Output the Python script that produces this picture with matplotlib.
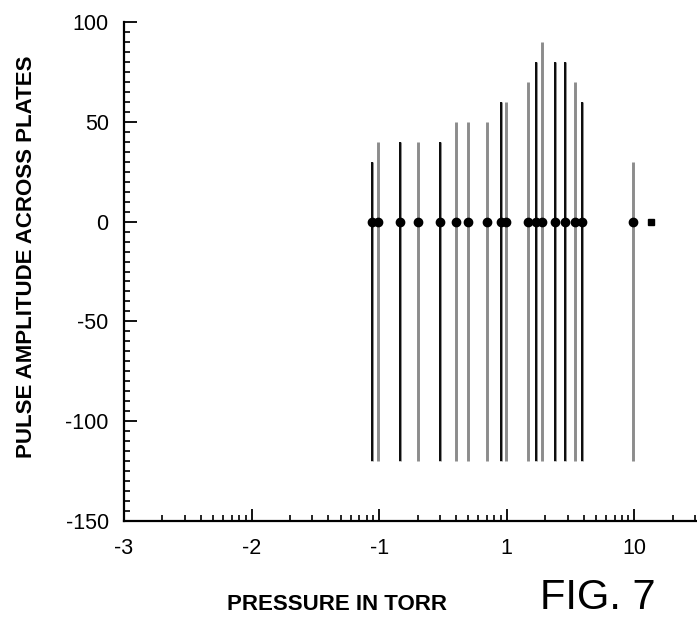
import matplotlib
matplotlib.use("Agg")
import matplotlib.pyplot as plt
from matplotlib.ticker import FixedLocator, FixedFormatter, NullFormatter
import numpy as np

plt.rcParams['font.family'] = ['Liberation Sans', 'DejaVu Sans']

# pressure (torr) of each measurement and the pulse amplitude range
pressure = [0.088, 0.098, 0.145, 0.2, 0.3, 0.4, 0.5, 0.7, 0.9, 0.98,
            1.46, 1.7, 1.9, 2.4, 2.85, 3.45, 3.9, 9.7]
amp_top = [30, 40, 40, 40, 40, 50, 50, 50, 60, 60,
           70, 80, 90, 80, 80, 70, 60, 30]
amp_bottom = [-120] * len(pressure)
# lone point with no pulse
extra_pressure = [13.6]
extra_amp = [0]

x_tick_pos = [1e-3, 1e-2, 1e-1, 1, 10]
x_tick_labels = ["-3", "-2", "-1", "1", "10"]
y_ticks = [100, 50, 0, -50, -100, -150]

# scan look: some lines came out dark, some grey
dark = [1, 0, 1, 0, 1, 0, 0, 0, 1, 0, 0, 1, 0, 1, 1, 0, 1, 0]

fig = plt.figure(figsize=(6.97, 6.21), dpi=100)
ax = fig.add_axes([124 / 697, 100 / 621, 573 / 697, 499 / 621])

for p, top, bot, d in zip(pressure, amp_top, amp_bottom, dark):
    ax.vlines(p, bot, top, color='#8c8c8c', lw=2.1)
    if d:
        ax.vlines(p, bot, top, color='black', lw=1.3)

ax.plot(pressure, [0] * len(pressure), 'o', color='black', ms=6)
ax.plot(extra_pressure, extra_amp, 's', color='black', ms=4.5)

ax.set_xscale('log')
ax.set_xlim(1e-3, 31)
ax.set_ylim(-150, 100)

ax.spines['top'].set_visible(False)
ax.spines['right'].set_visible(False)
ax.spines['left'].set_linewidth(1.6)
ax.spines['bottom'].set_linewidth(1.6)

ax.xaxis.set_major_locator(FixedLocator(x_tick_pos))
ax.xaxis.set_major_formatter(FixedFormatter(x_tick_labels))
minors = [m * 10.0 ** e for e in range(-3, 2) for m in range(2, 10)]
ax.xaxis.set_minor_locator(FixedLocator([v for v in minors if v < 31]))
ax.xaxis.set_minor_formatter(NullFormatter())

ax.set_yticks(y_ticks)
ax.set_yticklabels([str(v) for v in y_ticks])
ax.yaxis.set_minor_locator(FixedLocator(np.arange(-150, 101, 5)))

ax.tick_params(which='major', direction='in', length=9, width=1.3,
               labelsize=15.5, pad=11)
ax.tick_params(which='minor', direction='in', length=4.5, width=1.2)
ax.tick_params(axis='x', which='major', pad=12)

fig.text(27 / 697, 1 - 257 / 621, "PULSE AMPLITUDE ACROSS PLATES",
         rotation=90, ha='center', va='center', fontsize=16,
         fontweight='bold')
fig.text(337 / 697, 1 - 604 / 621, "PRESSURE IN TORR", ha='center',
         va='center', fontsize=16, fontweight='bold')
fig.text(540 / 697, 3 / 621, "FIG. 7", ha='left', va='bottom',
         fontsize=30)

fig.savefig("out.png", dpi=100)
